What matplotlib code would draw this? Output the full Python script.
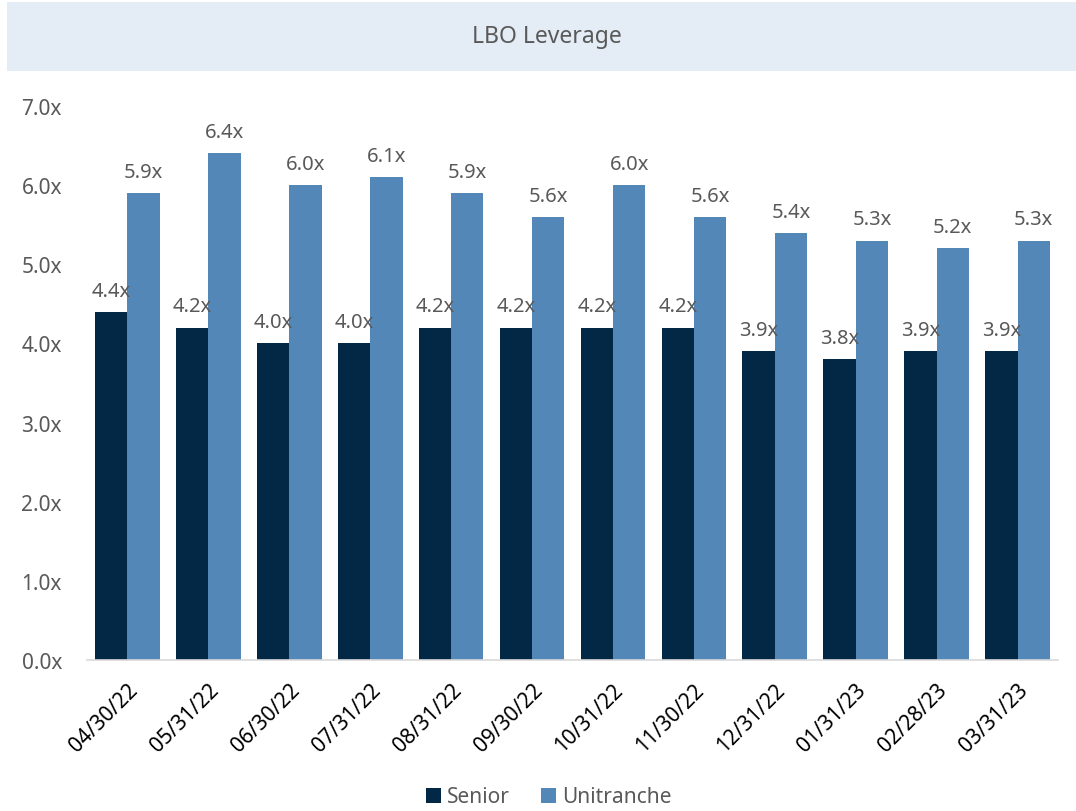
import matplotlib

matplotlib.use("Agg")
import matplotlib.pyplot as plt
import numpy as np
from matplotlib.patches import Rectangle

dates = ["04/30/22", "05/31/22", "06/30/22", "07/31/22", "08/31/22", "09/30/22",
         "10/31/22", "11/30/22", "12/31/22", "01/31/23", "02/28/23", "03/31/23"]
senior = [4.4, 4.2, 4.0, 4.0, 4.2, 4.2, 4.2, 4.2, 3.9, 3.8, 3.9, 3.9]
unitranche = [5.9, 6.4, 6.0, 6.1, 5.9, 5.6, 6.0, 5.6, 5.4, 5.3, 5.2, 5.3]
y_ticks = [0, 1, 2, 3, 4, 5, 6, 7]

SENIOR_COLOR = "#022846"
UNI_COLOR = "#5387b8"
TEXT_COLOR = "#595959"

plt.rcParams["font.family"] = ["Noto Sans", "DejaVu Sans"]

fig = plt.figure(figsize=(10.76, 8.12), dpi=100)

# header band
fig.patches.append(Rectangle((7 / 1076, 1 - 72 / 812), 1 - 7 / 1076, 69 / 812,
                             transform=fig.transFigure, facecolor="#e4ecf6",
                             edgecolor="none", zorder=0))
fig.text(0.508, 1 - 37 / 812, "LBO Leverage", ha="center", va="center",
         fontsize=16.5, color=TEXT_COLOR)

ax = fig.add_axes([87 / 1076, 1 - 661 / 812, 971 / 1076, 554 / 812])

x = np.arange(len(dates))
w = 0.4
b1 = ax.bar(x - w / 2, senior, w, color=SENIOR_COLOR, label="Senior", zorder=2)
b2 = ax.bar(x + w / 2, unitranche, w, color=UNI_COLOR, label="Unitranche", zorder=2)

for bars, vals in ((b1, senior), (b2, unitranche)):
    for rect, v in zip(bars, vals):
        ax.annotate(f"{v:.1f}x", (rect.get_x() + rect.get_width() / 2, v),
                    xytext=(0, 8), textcoords="offset points", ha="center",
                    va="bottom", fontsize=14.5, color=TEXT_COLOR)

ax.set_xlim(-0.5, len(dates) - 0.5)
ax.set_ylim(0, 7)
ax.set_yticks(y_ticks)
ax.set_yticklabels([f"{t:.1f}x" for t in y_ticks])
ax.set_xticks(x)
ax.set_xticklabels(dates, rotation=45, ha="right", rotation_mode="anchor",
                   fontsize=15, color="black")
ax.tick_params(axis="y", length=0, labelsize=15, labelcolor=TEXT_COLOR, pad=18)
ax.tick_params(axis="x", length=0, pad=14)

for side in ("top", "right", "left"):
    ax.spines[side].set_visible(False)
ax.spines["bottom"].set_color("#d9d9d9")
ax.spines["bottom"].set_linewidth(1.2)

fig.legend(handles=[b1, b2], loc="center", bbox_to_anchor=(0.51, 1 - 798 / 812),
           ncol=2, frameon=False, fontsize=15, labelcolor=TEXT_COLOR,
           handlelength=0.7, handleheight=0.7, handletextpad=0.3, columnspacing=1.5)

fig.savefig("out.png", dpi=100)
plt.close(fig)
